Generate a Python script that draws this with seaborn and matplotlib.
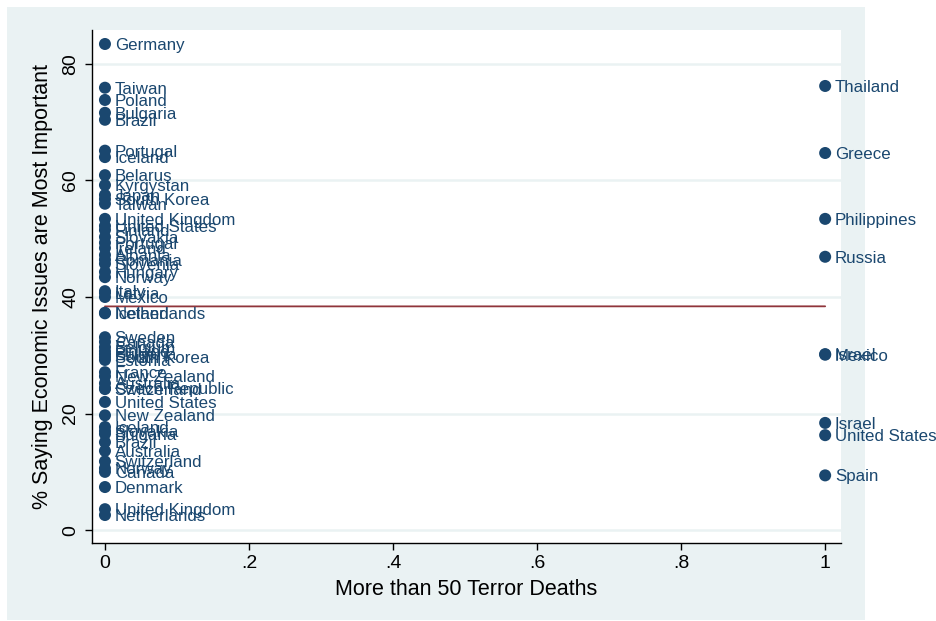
import matplotlib
matplotlib.use("Agg")
import matplotlib.pyplot as plt
from matplotlib.patches import Rectangle
import numpy as np
import pandas as pd
import seaborn as sns

# Countries without a deadly terror year (x = 0)
countries_low = [
    "Germany", "Taiwan", "Poland", "Bulgaria", "Brazil", "Portugal", "Iceland",
    "Belarus", "Kyrgystan", "Japan", "South Korea", "Taiwan", "United Kingdom",
    "United States", "Finland", "Slovakia", "Portugal", "Ireland", "Albania",
    "Romania", "Slovenia", "Hungary", "Norway", "Italy", "Latvia", "Mexico",
    "Netherlands", "Iceland", "Sweden", "Canada", "Belgium", "Finland",
    "Bulgaria", "South Korea", "Estonia", "France", "New Zealand", "Australia",
    "Czech Republic", "Switzerland", "United States", "New Zealand", "Iceland",
    "Slovakia", "Bulgaria", "Brazil", "Australia", "Switzerland", "Norway",
    "Canada", "Denmark", "United Kingdom", "Netherlands",
]
pct_low = [
    83.4, 75.9, 73.8, 71.6, 70.4, 65.1, 64.0,
    60.9, 59.2, 57.5, 56.8, 56.0, 53.4,
    52.2, 51.5, 50.3, 49.3, 48.4, 47.2,
    46.4, 45.7, 44.3, 43.4, 41.0, 40.7, 40.0,
    37.3, 37.2, 33.1, 32.3, 31.4, 30.7,
    30.2, 29.7, 29.2, 27.1, 26.4, 25.2,
    24.4, 24.2, 22.0, 19.7, 17.7,
    17.0, 16.5, 15.1, 13.6, 11.8, 10.6,
    10.0, 7.4, 3.6, 2.6,
]

# Countries with more than 50 terror deaths (x = 1)
countries_high = ["Thailand", "Greece", "Philippines", "Russia", "Israel",
                  "Mexico", "Israel", "United States", "Spain"]
pct_high = [76.2, 64.7, 53.4, 46.9, 30.2, 30.1, 18.4, 16.3, 9.4]

x_ticks = [0, 0.2, 0.4, 0.6, 0.8, 1.0]
x_ticklabels = ["0", ".2", ".4", ".6", ".8", "1"]
y_ticks = [0, 20, 40, 60, 80]

df = pd.DataFrame({
    "country": countries_low + countries_high,
    "deaths50": [0] * len(countries_low) + [1] * len(countries_high),
    "pct": pct_low + pct_high,
})

navy = "#1A476F"
maroon = "#90353B"
band = "#EAF2F3"

sns.set_theme(style="white")
plt.rcParams["font.family"] = ["Liberation Sans", "DejaVu Sans"]

fig = plt.figure(figsize=(9.37, 6.21), dpi=100, facecolor="white")
# light outer panel behind the plot region
fig.patches.append(Rectangle((7 / 937, 1 - 620 / 621), (865 - 7) / 937,
                             (620 - 7) / 621, transform=fig.transFigure,
                             facecolor=band, edgecolor="none", zorder=-10))
ax = fig.add_axes([92 / 937, 1 - 543 / 621, 749 / 937, 513 / 621])
ax.set_zorder(1)
ax.set_facecolor("white")

ax.set_xlim(-0.018, 1.022)
ax.set_ylim(-2.2, 85.8)
ax.set_yticks(y_ticks)
ax.set_yticklabels([str(v) for v in y_ticks], rotation=90, va="center")
ax.set_xticks(x_ticks)
ax.set_xticklabels(x_ticklabels)
ax.grid(axis="y", color=band, linewidth=1.8)
ax.grid(axis="x", visible=False)
ax.set_axisbelow(True)

sns.scatterplot(data=df, x="deaths50", y="pct", ax=ax, color=navy, s=75,
                edgecolor="none", zorder=3, legend=False)
sns.regplot(data=df, x="deaths50", y="pct", ax=ax, scatter=False, ci=None,
            truncate=True, line_kws={"color": maroon, "linewidth": 1.3,
                                     "zorder": 2})

for name, xv, yv in zip(df["country"], df["deaths50"], df["pct"]):
    ax.annotate(name, (xv, yv), xytext=(7, -1), textcoords="offset points",
                ha="left", va="center", fontsize=12.2, color=navy,
                clip_on=False, zorder=4)

for side in ["top", "right"]:
    ax.spines[side].set_visible(False)
for side in ["left", "bottom"]:
    ax.spines[side].set_color("black")
    ax.spines[side].set_linewidth(1.0)

ax.tick_params(axis="both", which="both", direction="out", length=5,
               width=1, color="black", labelsize=14, labelcolor="black",
               left=True, bottom=True, pad=4)

ax.set_xlabel("More than 50 Terror Deaths", fontsize=15.5, color="black",
              labelpad=5)
ax.set_ylabel("% Saying Economic Issues are Most Important", fontsize=15.5,
              color="black", labelpad=7)

fig.savefig("out.png", dpi=100, facecolor="white")
